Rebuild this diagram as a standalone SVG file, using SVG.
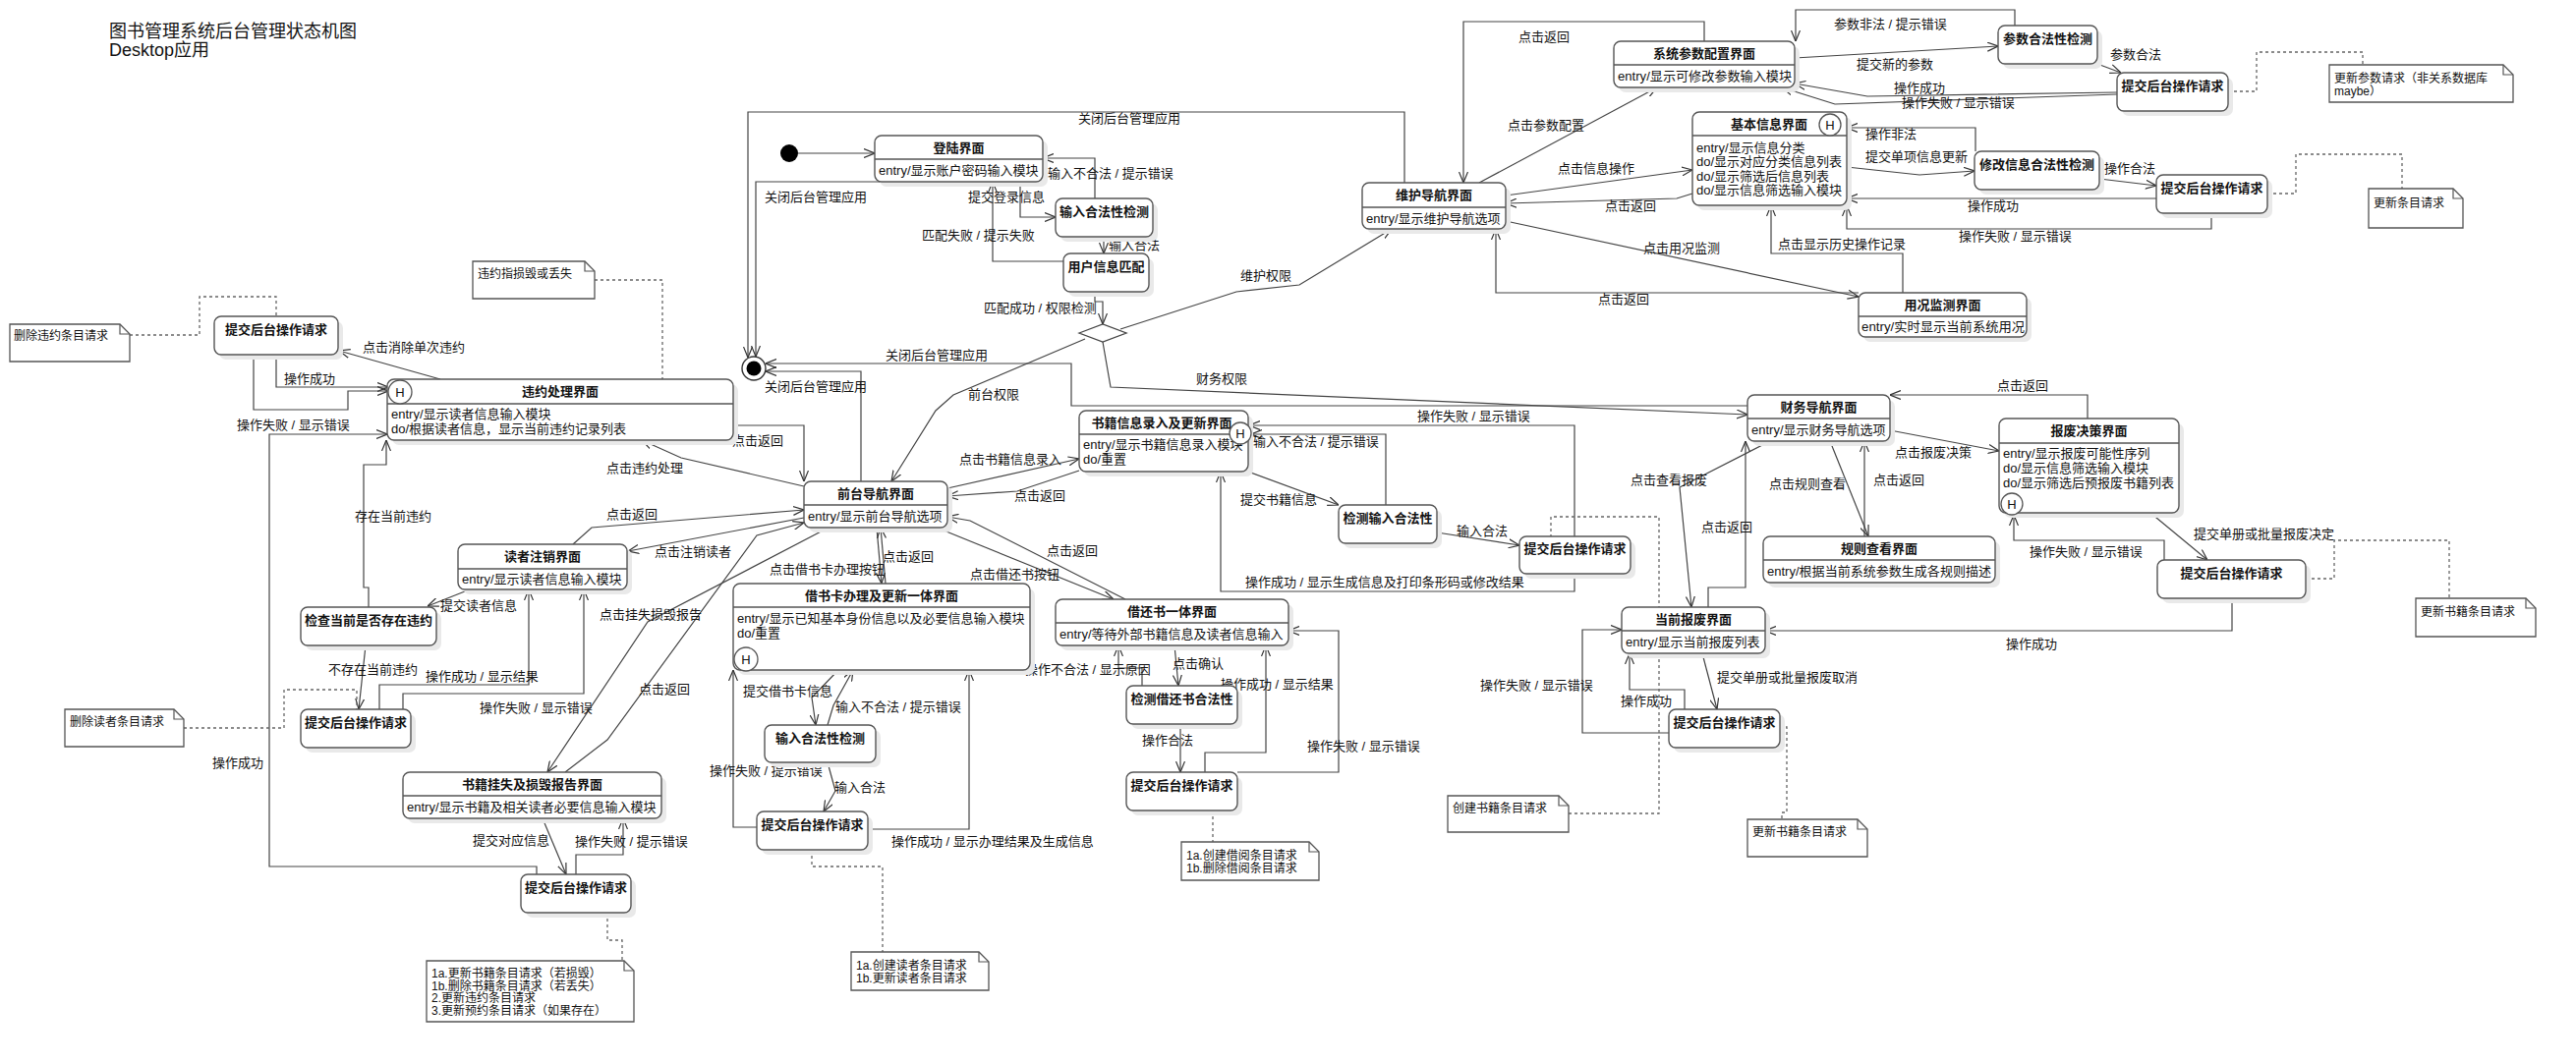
<svg xmlns="http://www.w3.org/2000/svg" width="2621" height="1081" viewBox="0 0 2621 1081">
<style>
text{font-family:"Liberation Sans","Noto Sans CJK SC",sans-serif;font-size:13px;fill:#111}
.ti{font-size:18px}
.t{font-weight:bold;text-anchor:middle}
.b{fill:#fff;stroke:#555;stroke-width:1.4}
.s{fill:#e9e9e9;stroke:none}
.dv{stroke:#555;stroke-width:1.4}
.c path{fill:none;stroke:#444;stroke-width:1.2;marker-end:url(#a)}
.d path{fill:none;stroke:#666;stroke-width:1.3;stroke-dasharray:3 3}
.nt polygon{fill:#fff;stroke:#555;stroke-width:1.3}
.nt path{fill:none;stroke:#555;stroke-width:1.2}
.nt text{font-size:12px}
.h{fill:#fff;stroke:#555;stroke-width:1.3}
.hl{text-anchor:middle;font-size:13px}
</style>
<defs>
<marker id="a" viewBox="0 0 11 10" refX="11" refY="5" markerWidth="11" markerHeight="10" markerUnits="userSpaceOnUse" orient="auto"><path d="M0,0.5 L11,5 L0,9.5" fill="none" stroke="#333" stroke-width="1.2"/></marker>
</defs>
<rect width="2621" height="1081" fill="#fff"/>
<g id="title"><text class="ti" x="111" y="38">图书管理系统后台管理状态机图</text><text class="ti" x="111" y="57">Desktop应用</text></g>

<g class="c" id="connectors">
<path d="M812,156 H890"/>
<path d="M1038,185 V221 H1074"/>
<path d="M1114,202 V161 H1061"/>
<path d="M1123,241 V258"/>
<path d="M1082,266 H1010 V185"/>
<path d="M1114,297 V307 H1122 V330"/>
<path d="M1140,335 L1258,297 L1322,290 L1416,233"/>
<path d="M1104,345 L970,402 L952,418 L907,490"/>
<path d="M1122,348 L1130,394 L1778,422"/>
<path d="M1778,413 H1090 V370 H779"/>
<path d="M876,490 V378 H779"/>
<path d="M1429,186 V114 H761 V364"/>
<path d="M898,185 H769 V363"/>
<path d="M1505,186 L1686,89"/>
<path d="M1734,42 V22 H1489 V186"/>
<path d="M1532,199 L1722,173"/>
<path d="M1722,197 L1706,202 L1532,207"/>
<path d="M1532,225 L1891,302"/>
<path d="M1891,298 H1522 V233"/>
<path d="M1936,298 V258 H1802 V209"/>
<path d="M1826,59 L2033,47"/>
<path d="M2050,26 V10 H1827 V42"/>
<path d="M2134,65 L2158,74"/>
<path d="M2154,94 L1900,98 L1826,85"/>
<path d="M2154,96 L1867,106 L1813,89"/>
<path d="M1879,170 L1953,178 L2009,174"/>
<path d="M2010,154 V130 H1879"/>
<path d="M2136,182 L2194,189"/>
<path d="M2194,202 H1879"/>
<path d="M2250,217 V233 H1879 V209"/>
<path d="M1923,438 L2034,459"/>
<path d="M2124,426 V402 H1923"/>
<path d="M1862,449 L1901,546"/>
<path d="M1897,546 V449"/>
<path d="M1801,449 L1709,496 L1721,618"/>
<path d="M1738,618 V598 H1776 V449"/>
<path d="M2188,522 L2246,570"/>
<path d="M2202,570 V550 H2049 V524"/>
<path d="M2271,609 V642 H1796"/>
<path d="M1732,665 L1747,722"/>
<path d="M1714,722 V702 H1658 V665"/>
<path d="M1698,746 H1610 V641 H1650"/>
<path d="M964,497 L1098,467"/>
<path d="M1098,479 L1035,500 L964,505"/>
<path d="M1270,480 L1362,514"/>
<path d="M1410,514 V442 H1273"/>
<path d="M1462,542 L1546,555"/>
<path d="M1602,546 V433 H1271"/>
<path d="M1602,584 V602 H1242 V480"/>
<path d="M953,537 L1133,610"/>
<path d="M1145,610 L987,530 L964,526"/>
<path d="M1195,657 L1199,698"/>
<path d="M1162,698 V680 H1138 V657"/>
<path d="M1201,737 V786"/>
<path d="M1226,786 V766 H1288 V657"/>
<path d="M1259,786 H1362 V642 H1311"/>
<path d="M892,537 L897,594"/>
<path d="M901,594 L896,537"/>
<path d="M853,682 L826,710 L830,738"/>
<path d="M842,738 L848,718 L868,682"/>
<path d="M842,776 L850,805 L838,826"/>
<path d="M770,842 H746 V682"/>
<path d="M883,844 H986 V682"/>
<path d="M818,495 L693,466 L653,448"/>
<path d="M746,433 H818 V490"/>
<path d="M583,554 L602,537 L818,519"/>
<path d="M818,527 L639,561"/>
<path d="M843,537 L659,633 L557,786"/>
<path d="M575,786 L618,753 L770,545 L818,532"/>
<path d="M478,600 L435,617"/>
<path d="M375,618 V598 H370 V473 H393 V448"/>
<path d="M372,657 L365,722"/>
<path d="M386,722 V697 H538 V600"/>
<path d="M410,722 V706 H594 V600"/>
<path d="M552,833 L576,890"/>
<path d="M586,890 V870 H634 V833"/>
<path d="M546,890 V882 H274 V442 H394"/>
<path d="M448,386 L345,357"/>
<path d="M281,361 V394 H395"/>
<path d="M258,361 V417 H354 V398 H395"/>
</g>

<g class="d" id="note-links">
<path d="M132,341 H203 V302 H281 V322"/>
<path d="M605,285 H674 V386"/>
<path d="M187,741 H289 V702 H363 V722"/>
<path d="M618,929 V957 H633 V978"/>
<path d="M826,865 V882 H898 V969"/>
<path d="M1234,825 V857"/>
<path d="M1596,828 H1688 V526 H1578 V546"/>
<path d="M1811,740 H1818 V827 H1813 V834"/>
<path d="M2346,589 H2375 V550 H2492 V609"/>
<path d="M2267,93 H2296 V53 H2404 V66"/>
<path d="M2307,197 H2336 V157 H2444 V192"/>
</g>

<g id="labels">
<text x="985" y="205">提交登录信息</text>
<text x="1066" y="181">输入不合法 / 提示错误</text>
<text x="1128" y="254">输入合法</text>
<text x="938" y="244">匹配失败 / 提示失败</text>
<text x="1001" y="318">匹配成功 / 权限检测</text>
<text x="1262" y="285">维护权限</text>
<text x="985" y="406">前台权限</text>
<text x="1217" y="390">财务权限</text>
<text x="1097" y="125">关闭后台管理应用</text>
<text x="778" y="205">关闭后台管理应用</text>
<text x="901" y="366">关闭后台管理应用</text>
<text x="778" y="398">关闭后台管理应用</text>
<text x="1534" y="132">点击参数配置</text>
<text x="1545" y="42">点击返回</text>
<text x="1585" y="176">点击信息操作</text>
<text x="1633" y="214">点击返回</text>
<text x="1672" y="257">点击用况监测</text>
<text x="1626" y="309">点击返回</text>
<text x="1809" y="253">点击显示历史操作记录</text>
<text x="1889" y="70">提交新的参数</text>
<text x="1866" y="29">参数非法 / 提示错误</text>
<text x="2147" y="60">参数合法</text>
<text x="1927" y="94">操作成功</text>
<text x="1935" y="109">操作失败 / 显示错误</text>
<text x="1898" y="164">提交单项信息更新</text>
<text x="1898" y="141">操作非法</text>
<text x="2141" y="176">操作合法</text>
<text x="2002" y="214">操作成功</text>
<text x="1993" y="245">操作失败 / 显示错误</text>
<text x="1928" y="465">点击报废决策</text>
<text x="2032" y="397">点击返回</text>
<text x="1800" y="497">点击规则查看</text>
<text x="1906" y="493">点击返回</text>
<text x="1659" y="493">点击查看报废</text>
<text x="1731" y="541">点击返回</text>
<text x="2232" y="548">提交单册或批量报废决定</text>
<text x="2065" y="566">操作失败 / 显示错误</text>
<text x="2041" y="660">操作成功</text>
<text x="1747" y="694">提交单册或批量报废取消</text>
<text x="1649" y="718">操作成功</text>
<text x="1506" y="702">操作失败 / 显示错误</text>
<text x="976" y="472">点击书籍信息录入</text>
<text x="1032" y="509">点击返回</text>
<text x="1262" y="513">提交书籍信息</text>
<text x="1275" y="454">输入不合法 / 提示错误</text>
<text x="1482" y="545">输入合法</text>
<text x="1442" y="428">操作失败 / 显示错误</text>
<text x="1267" y="597">操作成功 / 显示生成信息及打印条形码或修改结果</text>
<text x="987" y="589">点击借还书按钮</text>
<text x="1065" y="565">点击返回</text>
<text x="1193" y="680">点击确认</text>
<text x="1043" y="686">操作不合法 / 显示原因</text>
<text x="1162" y="758">操作合法</text>
<text x="1242" y="701">操作成功 / 显示结果</text>
<text x="1330" y="764">操作失败 / 显示错误</text>
<text x="783" y="584">点击借书卡办理按钮</text>
<text x="898" y="571">点击返回</text>
<text x="756" y="708">提交借书卡信息</text>
<text x="850" y="724">输入不合法 / 提示错误</text>
<text x="849" y="806">输入合法</text>
<text x="722" y="789">操作失败 / 提示错误</text>
<text x="907" y="861">操作成功 / 显示办理结果及生成信息</text>
<text x="617" y="481">点击违约处理</text>
<text x="745" y="453">点击返回</text>
<text x="617" y="528">点击返回</text>
<text x="666" y="566">点击注销读者</text>
<text x="610" y="630">点击挂失损毁报告</text>
<text x="650" y="706">点击返回</text>
<text x="448" y="621">提交读者信息</text>
<text x="361" y="530">存在当前违约</text>
<text x="334" y="686">不存在当前违约</text>
<text x="433" y="693">操作成功 / 显示结果</text>
<text x="488" y="725">操作失败 / 显示错误</text>
<text x="481" y="860">提交对应信息</text>
<text x="585" y="861">操作失败 / 提示错误</text>
<text x="216" y="781">操作成功</text>
<text x="369" y="358">点击消除单次违约</text>
<text x="289" y="390">操作成功</text>
<text x="241" y="437">操作失败 / 显示错误</text>
</g>

<g id="initial"><circle cx="803" cy="156" r="9" fill="#000"/></g>
<g id="final"><circle cx="767" cy="375" r="12" fill="#fff" stroke="#333" stroke-width="1.4"/><circle cx="767" cy="375" r="7.5" fill="#000"/></g>
<g id="decision"><polygon points="1098,339 1122,330 1146,339 1122,348" fill="#fff" stroke="#444" stroke-width="1.3"/></g>

<g id="login"><rect class="s" x="895" y="143" width="171" height="47" rx="7"/><rect class="b" x="890" y="138" width="171" height="47" rx="7"/><line class="dv" x1="890" y1="162" x2="1061" y2="162"/><text class="t" x="975.5" y="154.5">登陆界面</text><text x="894" y="178">entry/显示账户密码输入模块</text></g>
<g id="login-check"><rect class="s" x="1079" y="207" width="99" height="39" rx="7"/><rect class="b" x="1074" y="202" width="99" height="39" rx="7"/><text class="t" x="1123.5" y="219.5">输入合法性检测</text></g>
<g id="user-match"><rect class="s" x="1087" y="263" width="87" height="39" rx="7"/><rect class="b" x="1082" y="258" width="87" height="39" rx="7"/><text class="t" x="1125.5" y="275.5">用户信息匹配</text></g>

<g id="maint-nav"><rect class="s" x="1391" y="191" width="146" height="47" rx="7"/><rect class="b" x="1386" y="186" width="146" height="47" rx="7"/><line class="dv" x1="1386" y1="211" x2="1532" y2="211"/><text class="t" x="1459" y="203">维护导航界面</text><text x="1390" y="227">entry/显示维护导航选项</text></g>
<g id="params"><rect class="s" x="1647" y="47" width="184" height="47" rx="7"/><rect class="b" x="1642" y="42" width="184" height="47" rx="7"/><line class="dv" x1="1642" y1="66" x2="1826" y2="66"/><text class="t" x="1734" y="58.5">系统参数配置界面</text><text x="1646" y="82" textLength="177" lengthAdjust="spacingAndGlyphs">entry/显示可修改参数输入模块</text></g>
<g id="param-check"><rect class="s" x="2038" y="31" width="101" height="39" rx="7"/><rect class="b" x="2033" y="26" width="101" height="39" rx="7"/><text class="t" x="2083.5" y="43.5">参数合法性检测</text></g>
<g id="param-submit"><rect class="s" x="2159" y="79" width="113" height="39" rx="7"/><rect class="b" x="2154" y="74" width="113" height="39" rx="7"/><text class="t" x="2210.5" y="91.5">提交后台操作请求</text></g>
<g id="basic-info"><rect class="s" x="1727" y="119" width="157" height="95" rx="7"/><rect class="b" x="1722" y="114" width="157" height="95" rx="7"/><line class="dv" x1="1722" y1="138" x2="1879" y2="138"/><text class="t" x="1800" y="130.5">基本信息界面</text><circle class="h" cx="1862" cy="127" r="11"/><text class="hl" x="1862" y="131.5">H</text><text x="1726" y="154.5">entry/显示信息分类</text><text x="1726" y="169">do/显示对应分类信息列表</text><text x="1726" y="183.5">do/显示筛选后信息列表</text><text x="1726" y="198">do/显示信息筛选输入模块</text></g>
<g id="info-check"><rect class="s" x="2014" y="159" width="127" height="39" rx="7"/><rect class="b" x="2009" y="154" width="127" height="39" rx="7"/><text class="t" x="2072.5" y="171.5">修改信息合法性检测</text></g>
<g id="info-submit"><rect class="s" x="2199" y="183" width="113" height="39" rx="7"/><rect class="b" x="2194" y="178" width="113" height="39" rx="7"/><text class="t" x="2250.5" y="195.5">提交后台操作请求</text></g>
<g id="monitor"><rect class="s" x="1896" y="303" width="171" height="45" rx="7"/><rect class="b" x="1891" y="298" width="171" height="45" rx="7"/><line class="dv" x1="1891" y1="322" x2="2062" y2="322"/><text class="t" x="1976.5" y="314.5">用况监测界面</text><text x="1894" y="337" textLength="166" lengthAdjust="spacingAndGlyphs">entry/实时显示当前系统用况</text></g>

<g id="finance-nav"><rect class="s" x="1783" y="407" width="145" height="47" rx="7"/><rect class="b" x="1778" y="402" width="145" height="47" rx="7"/><line class="dv" x1="1778" y1="426" x2="1923" y2="426"/><text class="t" x="1850.5" y="418.5">财务导航界面</text><text x="1782" y="442">entry/显示财务导航选项</text></g>
<g id="scrap-decision"><rect class="s" x="2039" y="431" width="183" height="96" rx="7"/><rect class="b" x="2034" y="426" width="183" height="96" rx="7"/><line class="dv" x1="2034" y1="451" x2="2217" y2="451"/><text class="t" x="2125.5" y="443">报废决策界面</text><text x="2038" y="466">entry/显示报废可能性序列</text><text x="2038" y="481">do/显示信息筛选输入模块</text><text x="2038" y="496">do/显示筛选后预报废书籍列表</text><circle class="h" cx="2047" cy="513" r="11"/><text class="hl" x="2047" y="517.5">H</text></g>
<g id="rules"><rect class="s" x="1799" y="551" width="236" height="47" rx="7"/><rect class="b" x="1794" y="546" width="236" height="47" rx="7"/><line class="dv" x1="1794" y1="570" x2="2030" y2="570"/><text class="t" x="1912" y="562.5">规则查看界面</text><text x="1798" y="586" textLength="228" lengthAdjust="spacingAndGlyphs">entry/根据当前系统参数生成各规则描述</text></g>
<g id="decision-submit"><rect class="s" x="2200" y="575" width="151" height="39" rx="7"/><rect class="b" x="2195" y="570" width="151" height="39" rx="7"/><text class="t" x="2270.5" y="587.5">提交后台操作请求</text></g>
<g id="current-scrap"><rect class="s" x="1655" y="623" width="146" height="47" rx="7"/><rect class="b" x="1650" y="618" width="146" height="47" rx="7"/><line class="dv" x1="1650" y1="642" x2="1796" y2="642"/><text class="t" x="1723" y="634.5">当前报废界面</text><text x="1654" y="658">entry/显示当前报废列表</text></g>
<g id="current-submit"><rect class="s" x="1703" y="727" width="113" height="39" rx="7"/><rect class="b" x="1698" y="722" width="113" height="39" rx="7"/><text class="t" x="1754.5" y="739.5">提交后台操作请求</text></g>

<g id="book-entry"><rect class="s" x="1103" y="423" width="172" height="62" rx="7"/><rect class="b" x="1098" y="418" width="172" height="62" rx="7"/><line class="dv" x1="1098" y1="442" x2="1270" y2="442"/><text class="t" x="1182" y="434.5">书籍信息录入及更新界面</text><text x="1102" y="457">entry/显示书籍信息录入模块</text><text x="1102" y="472">do/重置</text><circle class="h" cx="1262" cy="441" r="11"/><text class="hl" x="1262" y="445.5">H</text></g>
<g id="book-check"><rect class="s" x="1367" y="519" width="100" height="39" rx="7"/><rect class="b" x="1362" y="514" width="100" height="39" rx="7"/><text class="t" x="1412" y="531.5">检测输入合法性</text></g>
<g id="book-submit"><rect class="s" x="1551" y="551" width="113" height="38" rx="7"/><rect class="b" x="1546" y="546" width="113" height="38" rx="7"/><text class="t" x="1602.5" y="563">提交后台操作请求</text></g>

<g id="front-nav"><rect class="s" x="823" y="495" width="146" height="47" rx="7"/><rect class="b" x="818" y="490" width="146" height="47" rx="7"/><line class="dv" x1="818" y1="514" x2="964" y2="514"/><text class="t" x="891" y="506.5">前台导航界面</text><text x="822" y="530">entry/显示前台导航选项</text></g>
<g id="borrow-return"><rect class="s" x="1079" y="615" width="237" height="47" rx="7"/><rect class="b" x="1074" y="610" width="237" height="47" rx="7"/><line class="dv" x1="1074" y1="634" x2="1311" y2="634"/><text class="t" x="1192.5" y="626.5">借还书一体界面</text><text x="1078" y="650">entry/等待外部书籍信息及读者信息输入</text></g>
<g id="br-check"><rect class="s" x="1151" y="703" width="113" height="39" rx="7"/><rect class="b" x="1146" y="698" width="113" height="39" rx="7"/><text class="t" x="1202.5" y="715.5">检测借还书合法性</text></g>
<g id="br-submit"><rect class="s" x="1151" y="791" width="113" height="39" rx="7"/><rect class="b" x="1146" y="786" width="113" height="39" rx="7"/><text class="t" x="1202.5" y="803.5">提交后台操作请求</text></g>
<g id="card"><rect class="s" x="751" y="599" width="302" height="88" rx="7"/><rect class="b" x="746" y="594" width="302" height="88" rx="7"/><line class="dv" x1="746" y1="618" x2="1048" y2="618"/><text class="t" x="897" y="610.5">借书卡办理及更新一体界面</text><text x="750" y="634">entry/显示已知基本身份信息以及必要信息输入模块</text><text x="750" y="648.5">do/重置</text><circle class="h" cx="759" cy="671" r="12"/><text class="hl" x="759" y="675.5">H</text></g>
<g id="card-check"><rect class="s" x="783" y="743" width="113" height="38" rx="7"/><rect class="b" x="778" y="738" width="113" height="38" rx="7"/><text class="t" x="834.5" y="755.5">输入合法性检测</text></g>
<g id="card-submit"><rect class="s" x="775" y="831" width="113" height="39" rx="7"/><rect class="b" x="770" y="826" width="113" height="39" rx="7"/><text class="t" x="826.5" y="843.5">提交后台操作请求</text></g>

<g id="violation"><rect class="s" x="399" y="391" width="352" height="62" rx="7"/><rect class="b" x="394" y="386" width="352" height="62" rx="7"/><line class="dv" x1="394" y1="411" x2="746" y2="411"/><text class="t" x="570" y="403">违约处理界面</text><circle class="h" cx="407" cy="399" r="12"/><text class="hl" x="407" y="403.5">H</text><text x="398" y="426">entry/显示读者信息输入模块</text><text x="398" y="441">do/根据读者信息，显示当前违约记录列表</text></g>
<g id="violation-submit"><rect class="s" x="223" y="327" width="126" height="39" rx="7"/><rect class="b" x="218" y="322" width="126" height="39" rx="7"/><text class="t" x="281" y="339.5">提交后台操作请求</text></g>
<g id="reader-cancel"><rect class="s" x="471" y="559" width="172" height="46" rx="7"/><rect class="b" x="466" y="554" width="172" height="46" rx="7"/><line class="dv" x1="466" y1="579" x2="638" y2="579"/><text class="t" x="552" y="571">读者注销界面</text><text x="470" y="594">entry/显示读者信息输入模块</text></g>
<g id="reader-check"><rect class="s" x="311" y="623" width="138" height="39" rx="7"/><rect class="b" x="306" y="618" width="138" height="39" rx="7"/><text class="t" x="375" y="635.5">检查当前是否存在违约</text></g>
<g id="reader-submit"><rect class="s" x="311" y="727" width="112" height="39" rx="7"/><rect class="b" x="306" y="722" width="112" height="39" rx="7"/><text class="t" x="362" y="739.5">提交后台操作请求</text></g>
<g id="lost-report"><rect class="s" x="415" y="791" width="263" height="47" rx="7"/><rect class="b" x="410" y="786" width="263" height="47" rx="7"/><line class="dv" x1="410" y1="810" x2="673" y2="810"/><text class="t" x="541.5" y="802.5">书籍挂失及损毁报告界面</text><text x="414" y="826">entry/显示书籍及相关读者必要信息输入模块</text></g>
<g id="lost-submit"><rect class="s" x="535" y="895" width="112" height="39" rx="7"/><rect class="b" x="530" y="890" width="112" height="39" rx="7"/><text class="t" x="586" y="907.5">提交后台操作请求</text></g>

<g class="nt" id="note-del-violation"><polygon points="10,330 122,330 132,340 132,368 10,368"/><path d="M122,330 V340 H132"/><text x="14" y="346">删除违约条目请求</text></g>
<g class="nt" id="note-violation-def"><polygon points="481,266 595,266 605,276 605,304 481,304"/><path d="M595,266 V276 H605"/><text x="486" y="283">违约指损毁或丢失</text></g>
<g class="nt" id="note-del-reader"><polygon points="66,722 177,722 187,732 187,760 66,760"/><path d="M177,722 V732 H187"/><text x="71" y="739">删除读者条目请求</text></g>
<g class="nt" id="note-lost"><polygon points="434,978 635,978 645,988 645,1040 434,1040"/><path d="M635,978 V988 H645"/><text x="439" y="995">1a.更新书籍条目请求（若损毁）</text><text x="439" y="1007.5">1b.删除书籍条目请求（若丢失）</text><text x="439" y="1020">2.更新违约条目请求</text><text x="439" y="1032.5">3.更新预约条目请求（如果存在）</text></g>
<g class="nt" id="note-reader"><polygon points="866,969 996,969 1006,979 1006,1008 866,1008"/><path d="M996,969 V979 H1006"/><text x="871" y="987">1a.创建读者条目请求</text><text x="871" y="999.5">1b.更新读者条目请求</text></g>
<g class="nt" id="note-borrow"><polygon points="1202,857 1332,857 1342,867 1342,896 1202,896"/><path d="M1332,857 V867 H1342"/><text x="1207" y="875">1a.创建借阅条目请求</text><text x="1207" y="887.5">1b.删除借阅条目请求</text></g>
<g class="nt" id="note-create-book"><polygon points="1473,810 1586,810 1596,820 1596,847 1473,847"/><path d="M1586,810 V820 H1596"/><text x="1478" y="827">创建书籍条目请求</text></g>
<g class="nt" id="note-update-book-1"><polygon points="1778,834 1890,834 1900,844 1900,872 1778,872"/><path d="M1890,834 V844 H1900"/><text x="1783" y="851">更新书籍条目请求</text></g>
<g class="nt" id="note-update-book-2"><polygon points="2458,609 2570,609 2580,619 2580,648 2458,648"/><path d="M2570,609 V619 H2580"/><text x="2463" y="627">更新书籍条目请求</text></g>
<g class="nt" id="note-params"><polygon points="2370,66 2547,66 2557,76 2557,104 2370,104"/><path d="M2547,66 V76 H2557"/><text x="2375" y="84">更新参数请求（非关系数据库</text><text x="2375" y="96.5">maybe）</text></g>
<g class="nt" id="note-update-entry"><polygon points="2410,192 2496,192 2506,202 2506,232 2410,232"/><path d="M2496,192 V202 H2506"/><text x="2415" y="211">更新条目请求</text></g>
</svg>
